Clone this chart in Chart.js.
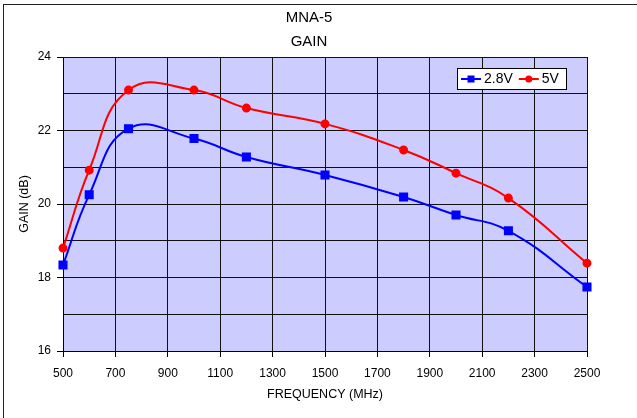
<!DOCTYPE html>
<html>
<head>
<meta charset="utf-8">
<script src="https://cdn.jsdelivr.net/npm/chart.js@4/dist/chart.umd.min.js"></script>
<style>
  html, body { margin: 0; padding: 0; background: #fff; }
  #wrap { position: relative; width: 637px; height: 418px; overflow: hidden; }
  #frame { position: absolute; left: 3px; top: 4px; width: 700px; height: 500px;
           border: 1.5px solid #222; pointer-events: none; }
</style>
</head>
<body>
<div id="wrap">
  <canvas id="chart" width="637" height="418"></canvas>
  <div id="frame"></div>
</div>
<script>
const frequencies = [500, 600, 750, 1000, 1200, 1500, 1800, 2000, 2200, 2500];
const gain28V = [18.34, 20.25, 22.05, 21.78, 21.28, 20.79, 20.19, 19.70, 19.27, 17.74];
const gain5V = [18.80, 20.92, 23.10, 23.10, 22.61, 22.18, 21.47, 20.84, 20.16, 18.39];
const seriesLabels = ["2.8V", "5V"];
const titleLines = ["MNA-5", "GAIN"];

const FONT = "'Liberation Sans', Arial, sans-serif";

// lavender plot background
const plotBackground = {
  id: "plotBackground",
  beforeDraw(chart) {
    const { ctx, chartArea: a } = chart;
    ctx.save();
    ctx.fillStyle = "#CCCCFF";
    ctx.fillRect(a.left, a.top, a.right - a.left, a.bottom - a.top);
    ctx.restore();
  },
};

// two line title, centred a little left of the plot centre like the original
const twoLineTitle = {
  id: "twoLineTitle",
  afterDraw(chart) {
    const { ctx } = chart;
    ctx.save();
    ctx.font = "15px " + FONT;
    ctx.fillStyle = "#000";
    ctx.textAlign = "center";
    ctx.textBaseline = "middle";
    titleLines.forEach((t, i) => ctx.fillText(t, 309, 18 + i * 24));
    ctx.restore();
  },
};

// boxed legend in the top right of the plot
const boxLegend = {
  id: "boxLegend",
  afterDraw(chart) {
    const { ctx } = chart;
    const x = 457, y = 68, w = 109, h = 21;
    ctx.save();
    ctx.fillStyle = "#fff";
    ctx.fillRect(x, y, w, h);
    ctx.strokeStyle = "#000";
    ctx.lineWidth = 1;
    ctx.strokeRect(x + 0.5, y + 0.5, w, h);
    ctx.font = "14px " + FONT;
    ctx.textBaseline = "middle";
    let cx = x + 4;
    chart.data.datasets.forEach((ds) => {
      const cy = y + h / 2 + 0.5;
      ctx.strokeStyle = ds.borderColor;
      ctx.lineWidth = 2;
      ctx.beginPath();
      ctx.moveTo(cx, cy);
      ctx.lineTo(cx + 20, cy);
      ctx.stroke();
      ctx.fillStyle = ds.borderColor;
      if (ds.pointStyle === "rect") {
        ctx.fillRect(cx + 6.5, cy - 3.5, 7, 7);
      } else {
        ctx.beginPath();
        ctx.arc(cx + 10, cy, 3.5, 0, Math.PI * 2);
        ctx.fill();
      }
      ctx.fillStyle = "#000";
      ctx.textAlign = "left";
      ctx.fillText(ds.label, cx + 23, cy);
      cx += 23 + ctx.measureText(ds.label).width + 6;
    });
    ctx.restore();
  },
};

new Chart(document.getElementById("chart"), {
  type: "line",
  data: {
    datasets: [
      {
        label: seriesLabels[0],
        data: frequencies.map((f, i) => ({ x: f, y: gain28V[i] })),
        borderColor: "#0000FF",
        backgroundColor: "#0000FF",
        borderWidth: 2,
        pointStyle: "rect",
        pointRadius: 5,
        tension: 0.45,
        clip: false,
      },
      {
        label: seriesLabels[1],
        data: frequencies.map((f, i) => ({ x: f, y: gain5V[i] })),
        borderColor: "#FF0000",
        backgroundColor: "#FF0000",
        borderWidth: 2,
        pointStyle: "circle",
        pointRadius: 3.5,
        tension: 0.45,
        clip: false,
      },
    ],
  },
  options: {
    responsive: false,
    animation: false,
    layout: { padding: { left: 0, right: 50, top: 57, bottom: 0 } },
    plugins: {
      legend: { display: false },
      tooltip: { enabled: false },
      title: { display: false },
    },
    scales: {
      x: {
        type: "linear",
        min: 500,
        max: 2500,
        afterFit(scale) { scale.height = 67; },
        ticks: {
          stepSize: 200,
          color: "#000",
          padding: 9,
          maxRotation: 0,
          font: { family: FONT, size: 12 },
          callback: (v) => String(v),
        },
        grid: { color: "#111", lineWidth: 1, tickLength: 6, tickColor: "#000" },
        border: { color: "#000", width: 1 },
        title: {
          display: true,
          text: "FREQUENCY (MHz)",
          color: "#000",
          font: { family: FONT, size: 12.5 },
          padding: { top: 0, bottom: 16 },
        },
      },
      y: {
        min: 16,
        max: 24,
        afterFit(scale) { scale.width = 63; },
        ticks: {
          stepSize: 1,
          color: "#000",
          padding: 6,
          font: { family: FONT, size: 12 },
          callback: (v) => (v % 2 === 0 ? String(v) : ""),
        },
        grid: {
          color: "#111",
          lineWidth: 1,
          tickLength: 6,
          tickColor: (c) => (c.tick && c.tick.value % 2 === 0 ? "#000" : "rgba(0,0,0,0)"),
        },
        border: { color: "#000", width: 1 },
        title: {
          display: true,
          text: "GAIN (dB)",
          color: "#000",
          font: { family: FONT, size: 12.5 },
          padding: { top: 17, bottom: 0 },
        },
      },
    },
  },
  plugins: [plotBackground, twoLineTitle, boxLegend],
});
</script>
</body>
</html>
